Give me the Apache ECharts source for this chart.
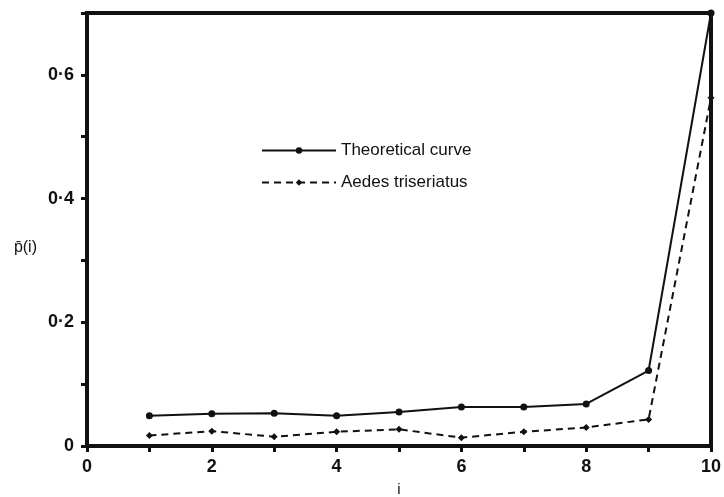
<!DOCTYPE html>
<html>
<head>
<meta charset="utf-8">
<script src="https://cdn.jsdelivr.net/npm/echarts@6/dist/echarts.min.js"></script>
<style>
  html, body { margin: 0; padding: 0; background: #fff; }
  #chart { width: 724px; height: 497px; }
</style>
</head>
<body>
<div id="chart"></div>
<script>
const iValues = [1, 2, 3, 4, 5, 6, 7, 8, 9, 10];
const theoretical = [0.049, 0.052, 0.053, 0.049, 0.055, 0.063, 0.063, 0.068, 0.122, 0.70];
const aedes = [0.017, 0.024, 0.015, 0.023, 0.027, 0.0135, 0.023, 0.030, 0.043, 0.563];

const ink = '#111';
const font = 'Liberation Sans';

const chart = echarts.init(document.getElementById('chart'));

chart.setOption({
  animation: false,
  backgroundColor: '#fff',
  textStyle: { fontFamily: font, color: ink },
  grid: {
    left: 87, right: 13, top: 13, bottom: 51,
    outerBoundsMode: 'none', containLabel: false,
    show: true, borderColor: ink, borderWidth: 4, backgroundColor: 'transparent'
  },
  legend: {
    orient: 'vertical',
    left: 256, top: 137,
    itemWidth: 74, itemHeight: 8, itemGap: 15,
    textStyle: { fontFamily: font, fontSize: 17, color: ink },
    data: ['Theoretical curve', 'Aedes triseriatus']
  },
  xAxis: {
    type: 'value', min: 0, max: 10, interval: 1,
    name: 'i', nameLocation: 'middle', nameGap: 36,
    nameTextStyle: { fontFamily: font, fontSize: 15, color: ink },
    axisLine: { show: true, lineStyle: { color: ink, width: 4 } },
    axisTick: { show: true, length: 6, lineStyle: { color: ink, width: 3 } },
    axisLabel: {
      fontFamily: font, fontSize: 18, fontWeight: 'bold', color: ink, margin: 12,
      formatter: v => (v % 2 === 0 ? String(v) : '')
    },
    splitLine: { show: false }
  },
  yAxis: {
    type: 'value', min: 0, max: 0.7, interval: 0.1,
    name: 'p\u0304(i)', nameLocation: 'middle', nameGap: 50, nameRotate: 0,
    nameTextStyle: { fontFamily: font, fontSize: 16, color: ink, verticalAlign: 'top', padding: [10, 0, 0, 0] },
    axisLine: { show: true, lineStyle: { color: ink, width: 4 } },
    axisTick: { show: true, length: 6, lineStyle: { color: ink, width: 3 } },
    axisLabel: {
      fontFamily: font, fontSize: 18, fontWeight: 'bold', color: ink, margin: 13,
      formatter: v => {
        const k = Math.round(v * 10);
        if (k === 0) return '0';
        return k % 2 === 0 && k < 7 ? '0\u00b7' + k : '';
      }
    },
    splitLine: { show: false }
  },
  series: [
    {
      name: 'Theoretical curve',
      type: 'line',
      data: iValues.map((x, k) => [x, theoretical[k]]),
      symbol: 'circle', symbolSize: 7,
      lineStyle: { color: ink, width: 2 },
      itemStyle: { color: ink },
      clip: false
    },
    {
      name: 'Aedes triseriatus',
      type: 'line',
      data: iValues.map((x, k) => [x, aedes[k]]),
      symbol: 'diamond', symbolSize: 7,
      lineStyle: { color: ink, width: 2, type: [7, 5] },
      itemStyle: { color: ink },
      clip: false
    }
  ]
});
</script>
</body>
</html>
